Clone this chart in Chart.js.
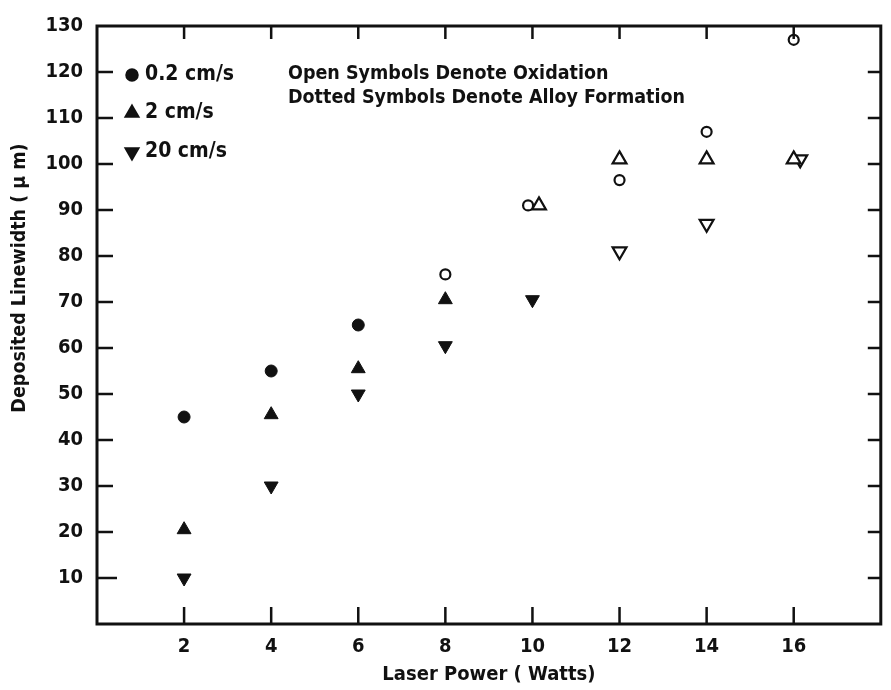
<!DOCTYPE html>
<html><head><meta charset="utf-8">
<script src="https://cdn.jsdelivr.net/npm/chart.js@4"></script>
<style>html,body{margin:0;padding:0;background:#fff}#wrap{width:891px;height:690px}</style>
</head><body><div id="wrap"><canvas id="c" width="891" height="690"></canvas></div>
<script>
const seriesLabels = ['0.2 cm/s', '2 cm/s', '20 cm/s'];
const notes = ['Open Symbols Denote Oxidation', 'Dotted Symbols Denote Alloy Formation'];
const xTitle = 'Laser Power ( Watts)';
const yTitle = 'Deposited Linewidth ( \u03bc m)';
const xTickValues = [2, 4, 6, 8, 10, 12, 14, 16];
const yTickValues = [10, 20, 30, 40, 50, 60, 70, 80, 90, 100, 110, 120, 130];

const slowX = [2, 4, 6, 8, 9.9, 12, 14, 16];
const slowY = [45, 55, 65, 76, 91, 96.5, 107, 127];
const slowOpen = [false, false, false, true, true, true, true, true];

const midX = [2, 4, 6, 8, 10.15, 12, 14, 16];
const midY = [20.5, 45.5, 55.5, 70.5, 91, 101, 101, 101];
const midOpen = [false, false, false, false, true, true, true, true];

const fastX = [2, 4, 6, 8, 10, 12, 14, 16.15];
const fastY = [10, 30, 50, 60.5, 70.5, 81, 87, 101];
const fastOpen = [false, false, false, false, false, true, true, true];

const FONT = '"DejaVu Sans Condensed", "Liberation Sans Narrow", "DejaVu Sans", sans-serif';
const CA = {left: 97, right: 882, top: 26, bottom: 624};

function pts(xs, ys) { return xs.map((x, i) => ({x: x, y: ys[i]})); }
function fills(open) { return open.map(o => o ? '#ffffff' : '#111111'); }

const styles = [
  {pointStyle: 'circle', rot: 0, rFill: 6, rOpen: 5},
  {pointStyle: 'triangle', rot: 0, rFill: 8, rOpen: 8},
  {pointStyle: 'triangle', rot: 180, rFill: 8, rOpen: 8}
];
const opens = [slowOpen, midOpen, fastOpen];

const datasets = [pts(slowX, slowY), pts(midX, midY), pts(fastX, fastY)].map((d, i) => ({
  label: seriesLabels[i],
  data: d,
  pointStyle: styles[i].pointStyle,
  rotation: styles[i].rot,
  pointRadius: opens[i].map(o => o ? styles[i].rOpen : styles[i].rFill),
  pointHoverRadius: opens[i].map(o => o ? styles[i].rOpen : styles[i].rFill),
  backgroundColor: fills(opens[i]),
  borderColor: '#111111',
  pointBorderWidth: opens[i].map(o => o ? 2.2 : 1),
  showLine: false
}));

const frame = {
  id: 'frame',
  afterDatasetsDraw(chart) {
    const ctx = chart.ctx, a = chart.chartArea;
    const xs = chart.scales.x, ys = chart.scales.y;
    ctx.save();
    ctx.strokeStyle = '#111';
    ctx.lineWidth = 3;
    ctx.strokeRect(a.left, a.top, a.right - a.left, a.bottom - a.top);
    ctx.lineWidth = 2.5;
    ctx.beginPath();
    xTickValues.forEach(v => {
      const px = xs.getPixelForValue(v);
      ctx.moveTo(px, a.bottom); ctx.lineTo(px, a.bottom - 17);
      ctx.moveTo(px, a.top); ctx.lineTo(px, a.top + 13);
    });
    yTickValues.forEach(v => {
      if (v >= 130) return;
      const py = ys.getPixelForValue(v);
      ctx.moveTo(a.left, py); ctx.lineTo(a.left + (v === 10 ? 20 : 16), py);
      ctx.moveTo(a.right, py); ctx.lineTo(a.right - 13, py);
    });
    ctx.stroke();

    // legend inside plot
    ctx.fillStyle = '#111';
    ctx.textBaseline = 'middle';
    ctx.textAlign = 'left';
    ctx.font = 'bold 21px ' + FONT;
    const rows = [75, 113, 152];
    seriesLabels.forEach((lab, i) => {
      Chart.helpers.drawPoint(ctx, {pointStyle: styles[i].pointStyle, rotation: styles[i].rot,
        radius: i === 0 ? 5.5 : 7, borderWidth: 1}, 132, rows[i]);
      ctx.fillStyle = '#111'; ctx.strokeStyle = '#111';
      ctx.fill();
      ctx.fillText(lab, 145, rows[i]);
    });
    ctx.font = 'bold 19.5px ' + FONT;
    ctx.fillText(notes[0], 288, 74);
    ctx.fillText(notes[1], 288, 98);

    // y title
    ctx.save();
    ctx.translate(20, 278);
    ctx.rotate(-Math.PI / 2);
    ctx.textAlign = 'center';
    ctx.font = 'bold 19.5px ' + FONT;
    ctx.fillText(yTitle, 0, 0);
    ctx.restore();
    ctx.restore();
  }
};

new Chart(document.getElementById('c'), {
  type: 'scatter',
  data: {datasets: datasets},
  options: {
    responsive: false,
    animation: false,
    layout: {padding: {top: CA.top, right: 891 - CA.right, left: 0, bottom: 0}},
    plugins: {legend: {display: false}, tooltip: {enabled: false}},
    scales: {
      x: {
        type: 'linear', min: 0, max: 18,
        afterFit(s) { s.height = 690 - CA.bottom; },
        grid: {display: false, drawTicks: false},
        border: {display: false},
        afterBuildTicks(s) { s.ticks = xTickValues.map(v => ({value: v})); },
        ticks: {color: '#111', padding: 11, font: {family: FONT, size: 20, weight: 'bold'}},
        title: {display: true, text: xTitle, color: '#111', padding: {top: 0, bottom: 3},
          font: {family: FONT, size: 20, weight: 'bold'}}
      },
      y: {
        type: 'linear', min: 0, max: 130,
        afterFit(s) { s.width = CA.left; },
        grid: {display: false, drawTicks: false},
        border: {display: false},
        afterBuildTicks(s) { s.ticks = yTickValues.map(v => ({value: v})); },
        ticks: {color: '#111', padding: 14, font: {family: FONT, size: 20, weight: 'bold'}}
      }
    }
  },
  plugins: [frame]
});
</script></body></html>
